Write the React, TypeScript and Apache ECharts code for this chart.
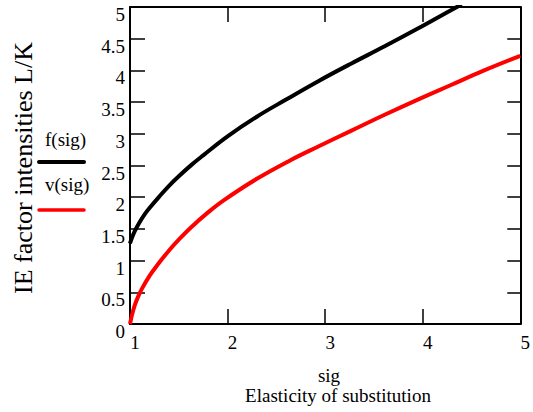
import React, { useEffect, useRef } from "react";
import * as echarts from "echarts";

const fSig = [1.0, 1.02, 1.05, 1.1, 1.15, 1.2, 1.3, 1.4, 1.5, 1.63, 1.75, 2.0, 2.3, 2.6, 2.93, 3.27, 3.61, 3.95, 4.29, 4.4];
const fVal = [1.27, 1.36, 1.47, 1.61, 1.73, 1.83, 2.01, 2.18, 2.33, 2.51, 2.66, 2.96, 3.27, 3.54, 3.83, 4.11, 4.38, 4.66, 4.95, 5.04];

const vSig = [1.0, 1.02, 1.05, 1.08, 1.12, 1.2, 1.29, 1.4, 1.5, 1.63, 1.8, 1.96, 2.3, 2.64, 2.93, 3.27, 3.61, 3.95, 4.29, 4.63, 5.0];
const vVal = [0.0, 0.14, 0.3, 0.42, 0.55, 0.76, 0.95, 1.16, 1.33, 1.53, 1.76, 1.95, 2.29, 2.58, 2.8, 3.05, 3.3, 3.54, 3.77, 4.0, 4.23];

const legendNames = ["f(sig)", "v(sig)"];
const yTitle = "IE factor intensities L/K";
const xTitle1 = "sig";
const xTitle2 = "Elasticity of substitution";

const FONT = "Liberation Serif";

export default function App() {
  const ref = useRef<HTMLDivElement>(null);
  useEffect(() => {
    if (!ref.current) return;
    const chart = echarts.init(ref.current, null, { renderer: "svg" });
    const tickLine = { show: true, inside: true, length: 15, lineStyle: { color: "#000", width: 1.5 } };
    const axisLine = { show: true, onZero: false, lineStyle: { color: "#000", width: 2 } };
    chart.setOption({
      animation: false,
      backgroundColor: "#fff",
      grid: { left: 130, right: 8.5, top: 7, bottom: 88, containLabel: false },
      xAxis: [
        {
          type: "value", min: 1, max: 5, interval: 1, position: "bottom",
          axisLine, axisTick: tickLine, splitLine: { show: false },
          axisLabel: { fontFamily: FONT, fontSize: 19, color: "#000", margin: 9, padding: [0, 0, 0, 10] },
        },
        {
          type: "value", min: 1, max: 5, interval: 1, position: "top",
          axisLine, axisTick: tickLine, splitLine: { show: false }, axisLabel: { show: false },
        },
      ],
      yAxis: [
        {
          type: "value", min: 0, max: 5, interval: 0.5, position: "left",
          axisLine, axisTick: tickLine, splitLine: { show: false },
          axisLabel: { fontFamily: FONT, fontSize: 19, color: "#000", margin: 5, verticalAlign: "top", padding: [-2, 0, 0, 0] },
        },
        {
          type: "value", min: 0, max: 5, interval: 0.5, position: "right",
          axisLine, axisTick: { ...tickLine, length: 13 }, splitLine: { show: false }, axisLabel: { show: false },
        },
      ],
      series: [
        {
          name: legendNames[0], type: "line", xAxisIndex: 0, yAxisIndex: 0,
          data: fSig.map((s, i) => [s, fVal[i]]), showSymbol: false, smooth: 0.4,
          lineStyle: { color: "#000", width: 4 }, clip: true,
        },
        {
          name: legendNames[1], type: "line", xAxisIndex: 0, yAxisIndex: 0,
          data: vSig.map((s, i) => [s, vVal[i]]), showSymbol: false, smooth: 0.4,
          lineStyle: { color: "#ff0000", width: 4 }, clip: true,
        },
      ],
      graphic: [
        { type: "text", x: 23, y: 168, rotation: Math.PI / 2, style: { text: yTitle, font: `26px "${FONT}"`, fill: "#000", textAlign: "center", textVerticalAlign: "middle" } },
        { type: "text", x: 45, y: 139, style: { text: legendNames[0], font: `19px "${FONT}"`, fill: "#000", textAlign: "left", textVerticalAlign: "middle" } },
        { type: "line", shape: { x1: 39, y1: 162, x2: 84, y2: 162 }, style: { stroke: "#000", lineWidth: 4, lineCap: "round" } },
        { type: "text", x: 45, y: 184, style: { text: legendNames[1], font: `19px "${FONT}"`, fill: "#000", textAlign: "left", textVerticalAlign: "middle" } },
        { type: "line", shape: { x1: 39, y1: 210, x2: 84, y2: 210 }, style: { stroke: "#ff0000", lineWidth: 3.5, lineCap: "round" } },
        { type: "text", x: 329, y: 375, style: { text: xTitle1, font: `19px "${FONT}"`, fill: "#000", textAlign: "center", textVerticalAlign: "middle" } },
        { type: "text", x: 338, y: 395, style: { text: xTitle2, font: `19px "${FONT}"`, fill: "#000", textAlign: "center", textVerticalAlign: "middle" } },
      ],
    });
    return () => chart.dispose();
  }, []);
  return <div ref={ref} style={{ width: 533, height: 412, position: "absolute", left: 0, top: 0 }} />;
}
